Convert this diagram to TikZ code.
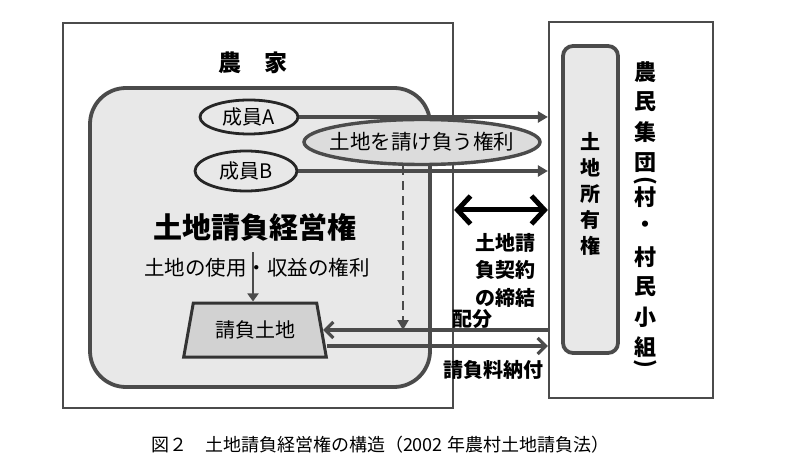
\documentclass[tikz,border=0pt]{standalone}
\usepackage{fontspec}
\usepackage{tikz}
\usetikzlibrary{arrows.meta,positioning,shapes.geometric}
\setmainfont{Noto Sans CJK JP}
\definecolor{linegray}{RGB}{75,75,75}
\definecolor{panelgray}{RGB}{232,232,232}
\definecolor{rightgray}{RGB}{220,220,220}
\definecolor{landgray}{RGB}{210,210,210}

\begin{document}
\begin{tikzpicture}[
  x=1pt,y=-1pt,
  frame/.style={draw=linegray,line width=2.2pt},
  panel/.style={draw=linegray,line width=3.8pt,fill=panelgray},
  member/.style={ellipse,draw=black!85,line width=2.8pt,fill=panelgray,inner sep=0pt,font=\fontsize{20}{20}\selectfont},
  vchar/.style={font=\bfseries\fontsize{20}{20}\selectfont,inner sep=0pt},
  vbig/.style={font=\bfseries\fontsize{22}{22}\selectfont,inner sep=0pt},
  lbl/.style={font=\bfseries\fontsize{20}{27.5}\selectfont,align=center,inner sep=0pt},
  arrow/.style={draw=linegray,line width=3.2pt,-{Triangle[length=10pt,width=11pt]}},
  thinarrow/.style={draw=linegray,line width=1.8pt,-{Triangle[length=8pt,width=11pt]}},
  barb/.style={draw=linegray,line width=3.2pt,-{Straight Barb[length=8pt,width=16pt]}},
  dblarrow/.style={draw=black,line width=5pt,{Straight Barb[length=13pt,width=28pt]}-{Straight Barb[length=13pt,width=28pt]}}
]
\path[use as bounding box] (0,0) rectangle (810,470);

\node[frame,minimum width=390,minimum height=385] (farm) at (258,215.5) {};
\node[font=\bfseries\fontsize{23}{23}\selectfont] (farmlbl) at (253,63) {農　家};
\node[panel,rounded corners=36pt,minimum width=340,minimum height=299] (mgmt) at (260,237.5) {};

\node[frame,minimum width=164,minimum height=376] (coll) at (631,210) {};
\node[panel,rounded corners=10pt,minimum width=55,minimum height=307] (own) at (590.5,199.5) {};
\foreach \ch [count=\i] in {土,地,所,有,権}
  \node[vchar] (own\i) at (590,{116+26*\i}) {\ch};
\foreach \ch/\y [count=\i] in {農/72,民/102,集/132,団/163,村/197,・/227,村/257,民/287,小/317,組/347}
  \node[vbig] (coll\i) at (645,\y) {\ch};
\node[vbig,rotate=-90] (lpar) at (645,181) {(};
\node[vbig,rotate=-90] (rpar) at (645,364) {)};

\node[member,minimum width=98,minimum height=34] (memA) at (249,117) {成員A};
\node[member,minimum width=102,minimum height=40] (memB) at (246,171) {成員B};
\draw[arrow] (memA.east) -- (memA.east -| coll.west);
\draw[arrow] (memB.east) -- (memB.east -| coll.west);
\node[ellipse,draw=linegray,line width=3.4pt,fill=rightgray,minimum width=236,minimum height=45] (right) at (422,142) {};
\node[font=\fontsize{20.5}{20.5}\selectfont] (righttxt) at (right) {土地を請け負う権利};

\node[font=\bfseries\fontsize{29}{29}\selectfont] (title) at (255,227) {土地請負経営権};
\node[font=\fontsize{20.5}{20.5}\selectfont] (use) at (257,268) {土地の使用・収益の権利};
\node[trapezium,trapezium angle=75,trapezium stretches,draw=black!80,line width=3pt,fill=landgray,
  minimum width=144,minimum height=54,font=\fontsize{20}{20}\selectfont] (land) at (255,330) {請負土地};
\draw[thinarrow] ([shift={(-2pt,-8pt)}]title.south) -- ([xshift=-2pt]title.south |- land.north);

\draw[arrow,line width=2.6pt,dash pattern=on 9pt off 6pt] ([xshift=-19pt]right.south) -- ([xshift=-19pt]right.south |- land.east);
\draw[dblarrow] (coll.west -| farm.east) -- (coll.west);
\node[lbl] (contract) at (505,270) {土地請\\負契約\\の締結};

\draw[barb] (coll.west |- land.east) -- (land.east);
\draw[barb] ([shift={(4pt,-16pt)}]land.east) -- ([yshift=-16pt]land.east -| coll.west);
\node[lbl] (alloc) at (472,319) {配分};
\node[lbl] (pay) at (493,370) {請負料納付};

\node[font=\fontsize{18}{18}\selectfont] (caption) at (380,445) {図２　土地請負経営権の構造（2002 年農村土地請負法）};
\end{tikzpicture}
\end{document}
